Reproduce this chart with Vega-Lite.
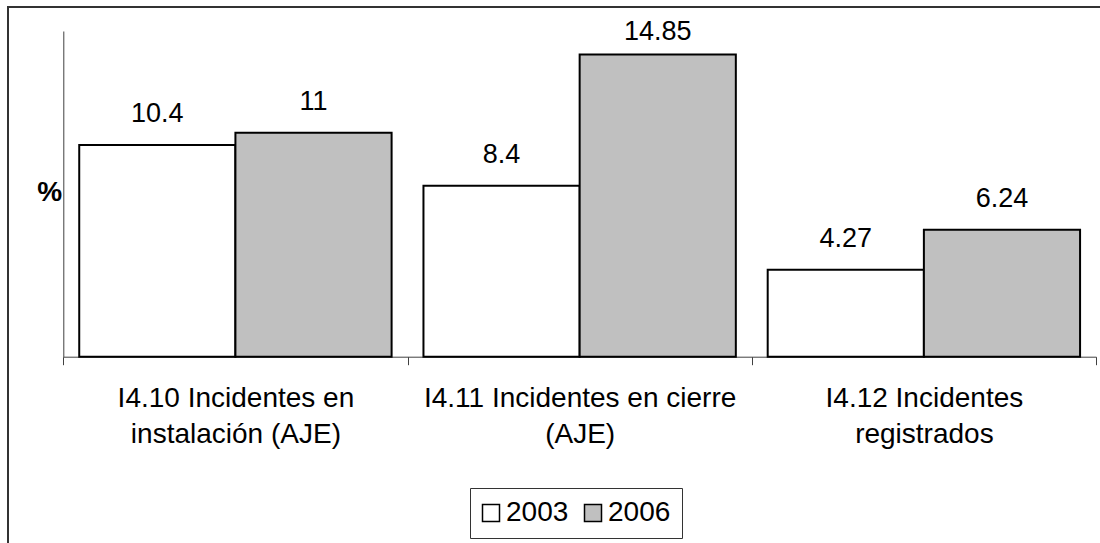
{
  "$schema": "https://vega.github.io/schema/vega-lite/v6.json",
  "autosize": {"type": "none"},
  "width": 1096,
  "height": 540,
  "padding": {"left": 8, "top": 7, "right": -4, "bottom": -4},
  "background": "white",
  "config": {
    "view": {"stroke": "#333333", "strokeWidth": 2},
    "font": "Liberation Sans"
  },
  "data": {
    "values": [
      {"cat": "I4.10 Incidentes en\ninstalación (AJE)", "year": "2003", "value": 10.4},
      {"cat": "I4.10 Incidentes en\ninstalación (AJE)", "year": "2006", "value": 11},
      {"cat": "I4.11 Incidentes en cierre\n(AJE)", "year": "2003", "value": 8.4},
      {"cat": "I4.11 Incidentes en cierre\n(AJE)", "year": "2006", "value": 14.85},
      {"cat": "I4.12 Incidentes\nregistrados", "year": "2003", "value": 4.27},
      {"cat": "I4.12 Incidentes\nregistrados", "year": "2006", "value": 6.24}
    ]
  },
  "encoding": {
    "x": {
      "field": "cat",
      "type": "nominal",
      "sort": null,
      "scale": {"range": [55.3, 1088], "paddingInner": 0, "paddingOuter": 0},
      "axis": {
        "title": null,
        "orient": "bottom",
        "offset": -190.3,
        "tickBand": "extent",
        "tickSize": 8,
        "tickColor": "#404040",
        "domainColor": "#404040",
        "labelAngle": 0,
        "labelFontSize": 28,
        "labelColor": "black",
        "labelPadding": 20,
        "labelLineHeight": 36,
        "labelBaseline": "top",
        "labelLimit": 0,
        "labelExpr": "split(datum.label, '\\n')",
        "grid": false
      }
    },
    "xOffset": {
      "field": "year",
      "type": "nominal",
      "scale": {"paddingInner": 0, "paddingOuter": 0.102}
    },
    "y": {
      "field": "value",
      "type": "quantitative",
      "scale": {"domain": [0, 16], "range": [349.7, 24], "nice": false},
      "axis": {
        "title": "%",
        "titleAngle": 0,
        "titleFontSize": 28,
        "titleFontWeight": "bold",
        "titleColor": "black",
        "titleAlign": "right",
        "titleBaseline": "alphabetic",
        "titleX": -1.6,
        "titleY": 193,
        "ticks": false,
        "labels": false,
        "grid": false,
        "domainColor": "#404040",
        "offset": -55.3
      }
    }
  },
  "layer": [
    {
      "mark": {"type": "bar", "stroke": "black", "strokeWidth": 2},
      "encoding": {
        "fill": {
          "field": "year",
          "type": "nominal",
          "scale": {"domain": ["2003", "2006"], "range": ["#ffffff", "#c0c0c0"]},
          "legend": {
            "title": null,
            "orient": "none",
            "legendX": 462,
            "legendY": 481,
            "direction": "horizontal",
            "padding": 11,
            "strokeColor": "#333333",
            "fillColor": "white",
            "symbolType": "square",
            "symbolSize": 289,
            "symbolOffset": -4,
            "symbolStrokeColor": "black",
            "symbolStrokeWidth": 1.5,
            "labelFontSize": 28,
            "labelColor": "black",
            "labelOffset": 1,
            "columnPadding": 12
          }
        }
      }
    },
    {
      "transform": [{"filter": "datum.value < 14"}],
      "mark": {"type": "text", "dy": -23, "fontSize": 27, "baseline": "alphabetic", "color": "black"},
      "encoding": {"text": {"field": "value", "type": "nominal"}}
    },
    {
      "transform": [{"filter": "datum.value >= 14"}],
      "mark": {"type": "text", "dy": -14, "fontSize": 27, "baseline": "alphabetic", "color": "black"},
      "encoding": {"text": {"field": "value", "type": "nominal"}}
    }
  ]
}
